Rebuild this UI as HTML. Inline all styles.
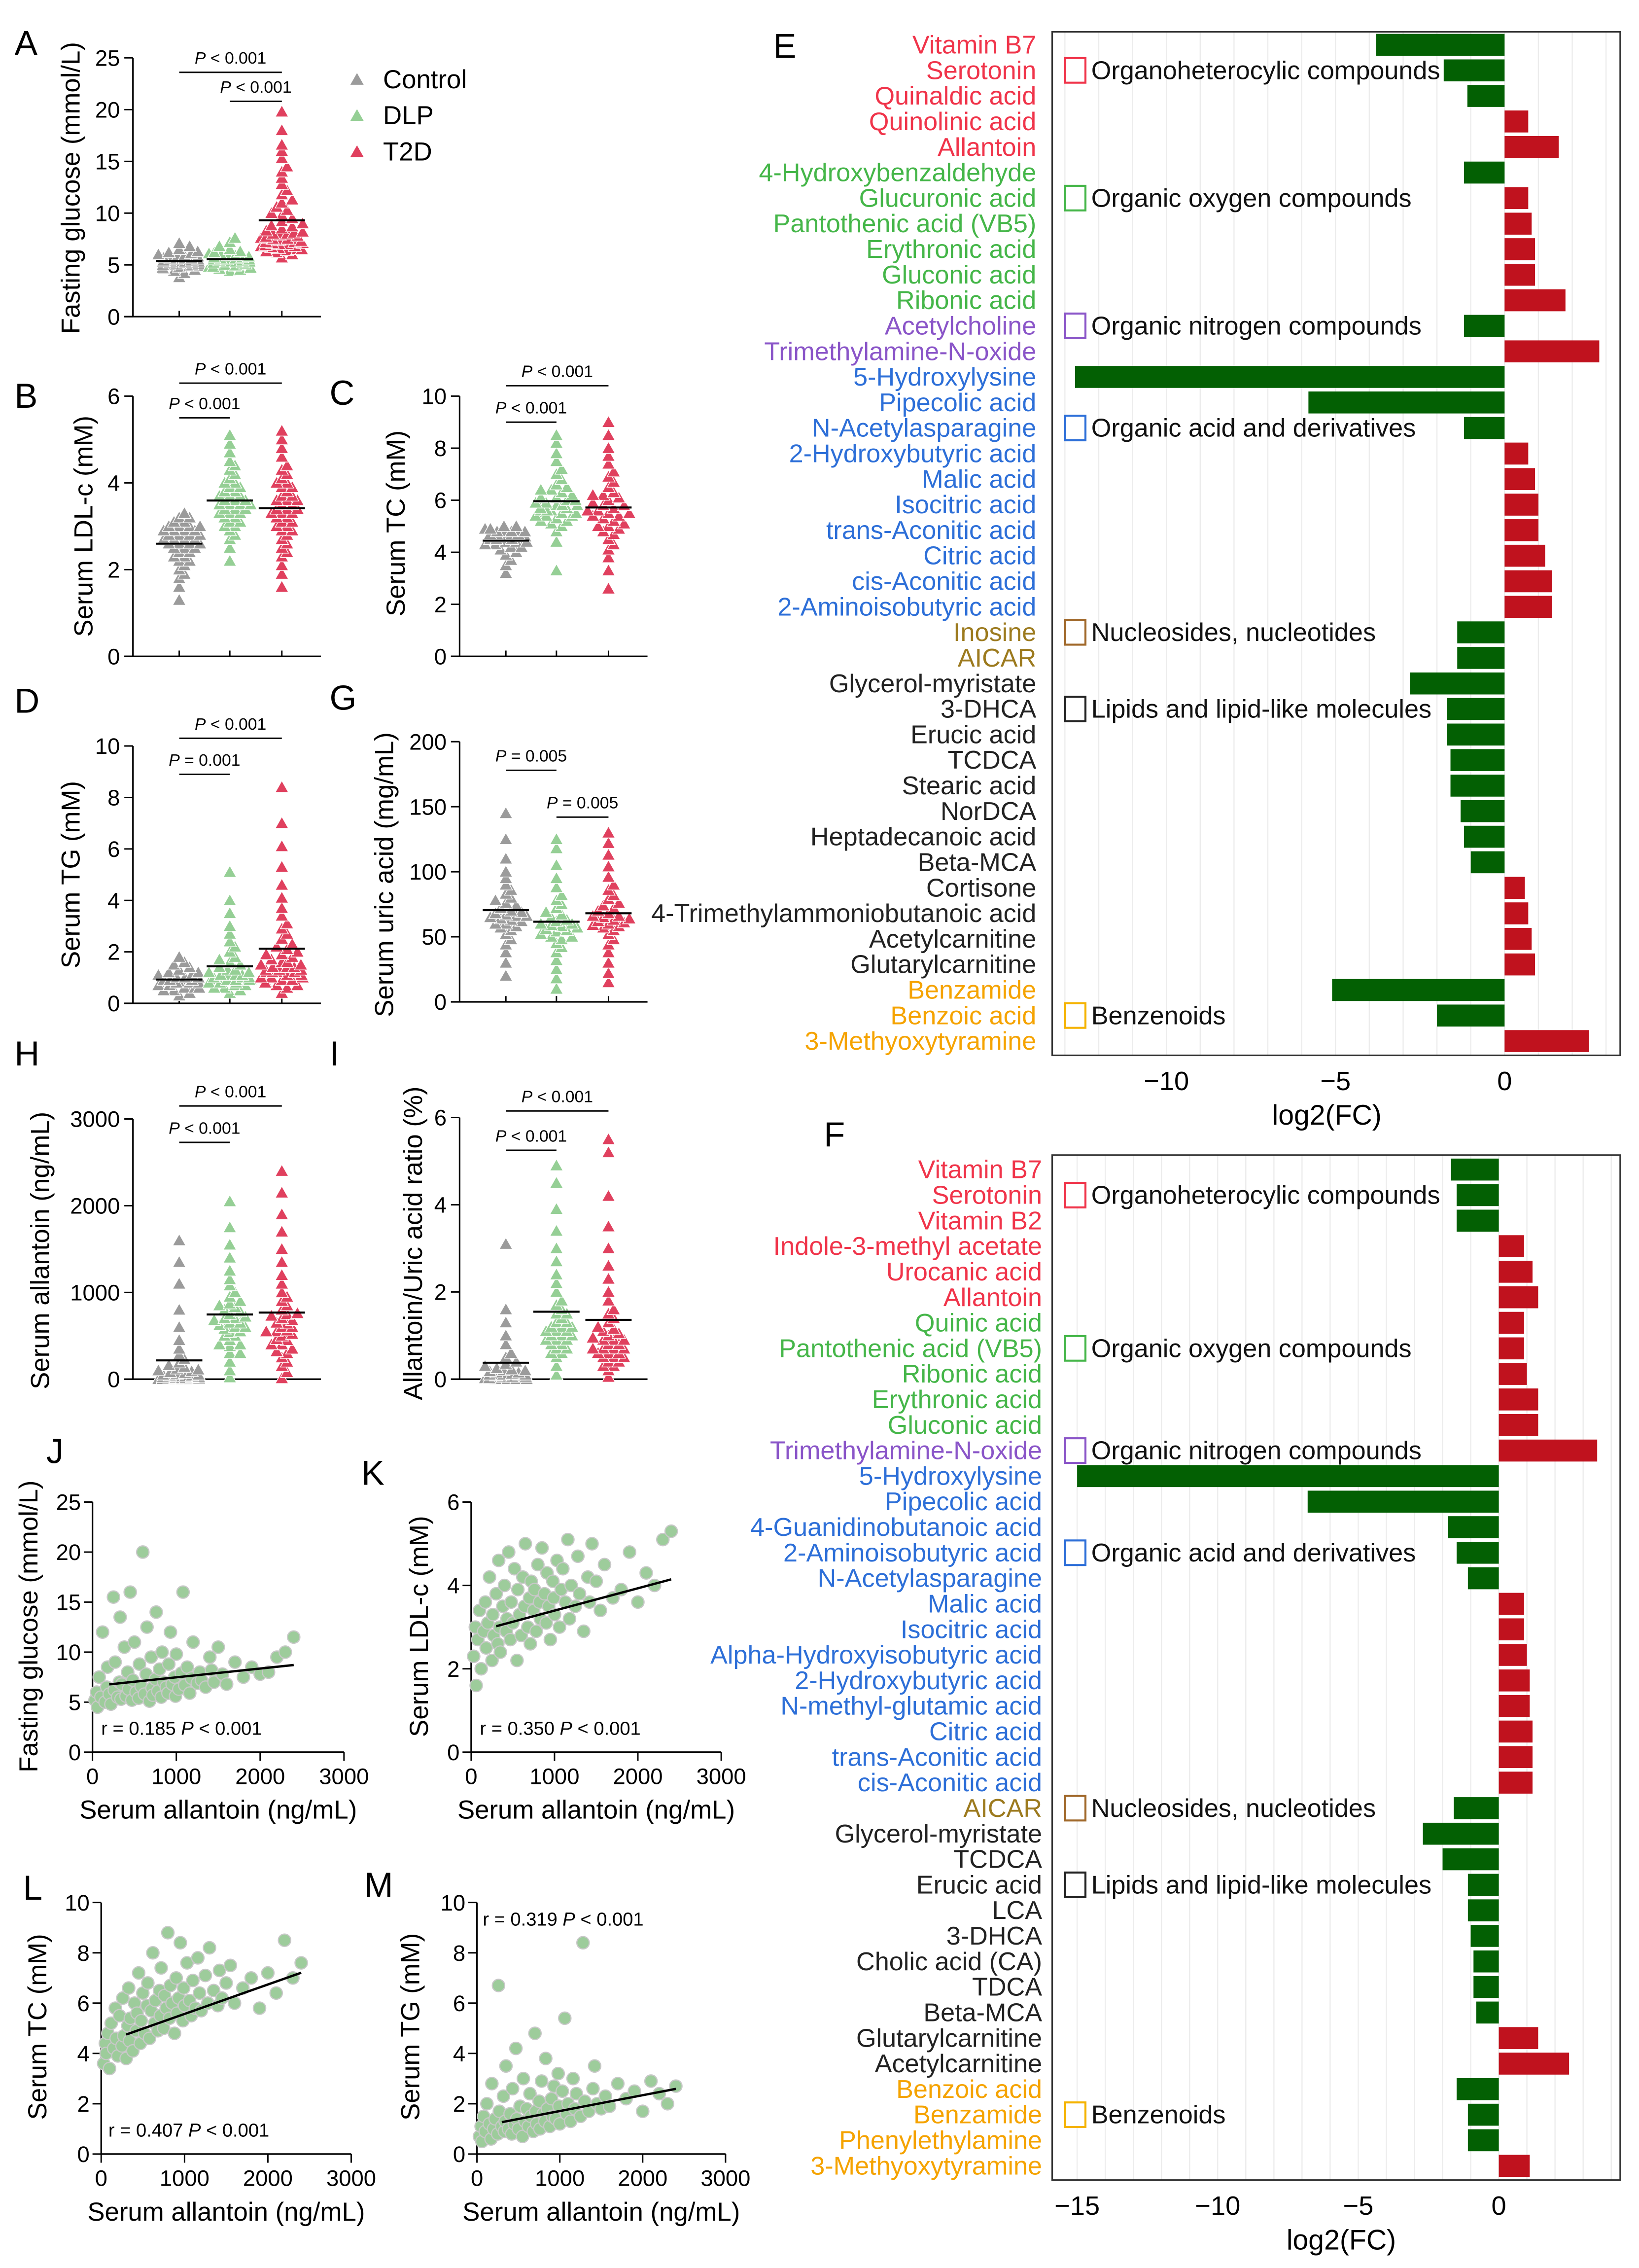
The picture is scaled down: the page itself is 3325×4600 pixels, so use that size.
<!DOCTYPE html>
<html><head><meta charset="utf-8"><style>
html,body{margin:0;padding:0;background:#fff;}
svg{display:block;font-family:"Liberation Sans",Arial,sans-serif;}
</style></head><body>
<svg id="fig" xmlns="http://www.w3.org/2000/svg" width="3325" height="4600" viewBox="0 0 1134 1568.8"></svg>
<script>
// ---------- DATA ----------
const aCtrl=[3.8,4.2,4.4,4.6,4.7,4.8,4.9,5.0,5.0,5.1,5.1,5.2,5.2,5.3,5.3,5.3,5.4,5.4,5.5,5.5,5.6,5.6,5.7,5.8,5.9,6.0,6.1,6.3,6.5,6.8,7.1,4.5,5.0,5.2,5.4,5.6,5.8,4.9,5.3,6.2];
const aDlp=[4.4,4.6,4.7,4.8,4.9,5.0,5.1,5.2,5.3,5.3,5.4,5.4,5.5,5.5,5.6,5.6,5.7,5.8,5.9,6.0,6.1,6.3,6.5,6.8,7.2,7.6,4.5,5.0,5.2,5.5,5.7,5.9,6.2,4.8,5.3];
const aT2d=[5.7,6.0,6.3,6.5,6.7,6.8,7.0,7.1,7.2,7.3,7.5,7.6,7.8,8.0,8.1,8.3,8.5,8.7,9.0,9.2,9.5,9.8,10.0,10.3,10.6,11.0,11.3,11.8,12.2,12.8,13.4,14.0,14.5,15.3,16.0,16.6,18.0,19.8,6.6,7.4,7.9,8.8,6.2,6.4,6.8,7.0,7.2,7.5,7.7,8.0,8.2,6.9,6.5,7.1];
const bCtrl=[1.3,1.6,1.8,1.9,2.0,2.1,2.2,2.2,2.3,2.4,2.4,2.5,2.5,2.6,2.6,2.6,2.7,2.7,2.7,2.8,2.8,2.8,2.9,2.9,2.9,3.0,3.0,3.0,3.1,3.1,3.2,3.2,3.3,2.3,2.5,2.7,2.9,3.0,2.6,2.8];
const bDlp=[2.2,2.5,2.7,2.8,2.9,3.0,3.0,3.1,3.2,3.2,3.3,3.3,3.4,3.4,3.4,3.5,3.5,3.5,3.6,3.6,3.6,3.7,3.7,3.8,3.8,3.9,4.0,4.0,4.1,4.2,4.3,4.4,4.5,4.7,4.9,5.1,3.1,3.3,3.5,3.7,3.9];
const bT2d=[1.6,1.9,2.1,2.3,2.4,2.5,2.6,2.7,2.8,2.9,3.0,3.0,3.1,3.1,3.2,3.2,3.3,3.3,3.4,3.4,3.4,3.5,3.5,3.6,3.6,3.7,3.7,3.8,3.9,4.0,4.0,4.1,4.2,4.3,4.4,4.6,4.8,5.0,5.2,2.9,3.3,3.6,3.9];
const cCtrl=[3.2,3.5,3.7,3.9,4.0,4.1,4.2,4.3,4.3,4.4,4.4,4.5,4.5,4.6,4.6,4.6,4.7,4.7,4.7,4.8,4.8,4.8,4.9,4.9,5.0,5.0,4.2,4.4,4.6,4.8,4.5,4.7];
const cDlp=[3.3,4.4,4.8,5.0,5.1,5.2,5.3,5.4,5.5,5.5,5.6,5.6,5.7,5.7,5.8,5.8,5.9,5.9,6.0,6.0,6.1,6.2,6.3,6.4,6.5,6.6,6.8,7.0,7.2,7.5,7.8,8.2,8.5,5.4,5.8,6.1,6.4,5.2,5.4,5.6];
const cT2d=[2.6,3.3,3.8,4.1,4.3,4.5,4.7,4.8,4.9,5.0,5.1,5.2,5.3,5.4,5.5,5.5,5.6,5.6,5.7,5.8,5.9,6.0,6.1,6.2,6.3,6.5,6.7,6.9,7.1,7.4,7.7,8.0,8.5,9.0,5.0,5.4,5.8,6.2];
const dCtrl=[0.3,0.4,0.5,0.5,0.6,0.6,0.7,0.7,0.7,0.8,0.8,0.8,0.9,0.9,0.9,1.0,1.0,1.0,1.1,1.1,1.2,1.2,1.3,1.4,1.5,1.6,1.8,0.6,0.8,1.0];
const dDlp=[0.4,0.5,0.6,0.7,0.8,0.8,0.9,0.9,1.0,1.0,1.0,1.1,1.1,1.2,1.2,1.3,1.3,1.4,1.5,1.6,1.7,1.8,2.0,2.2,2.4,2.7,3.0,3.5,4.0,5.1,0.9,1.1,0.6,0.7,0.8,0.9,1.0,1.1,0.8,0.9];
const dT2d=[0.4,0.6,0.7,0.8,0.9,1.0,1.1,1.2,1.2,1.3,1.4,1.4,1.5,1.6,1.7,1.8,1.9,2.0,2.1,2.2,2.3,2.5,2.7,2.9,3.1,3.4,3.7,4.1,4.6,5.3,6.1,7.0,8.4,1.0,1.3,1.6,1.9,0.8,0.9,1.0,1.1,1.2,1.3,1.4,1.5,0.7,1.2];
const gCtrl=[20,30,38,44,48,52,55,57,60,62,63,64,65,66,67,68,69,70,72,74,76,78,80,83,86,90,95,100,110,125,145,58,66,60];
const gDlp=[10,18,25,32,38,42,45,48,50,52,54,55,56,57,58,59,60,62,63,65,67,69,72,75,78,82,88,95,105,118,125,50,60];
const gT2d=[15,22,30,38,44,48,52,55,57,59,60,61,62,63,64,65,66,68,70,72,74,76,79,82,86,90,96,104,113,122,130,58,66];
const hCtrl=[0,0,0,0,0,5,10,15,20,25,30,40,50,60,70,80,90,100,110,120,140,160,190,230,280,350,450,600,800,1100,1350,1600,0,10,20,30,40,50];
const hDlp=[20,100,200,300,380,450,500,540,580,620,650,680,700,720,750,780,800,830,870,900,950,1000,1080,1150,1250,1400,1550,1750,2050,400,600,700,850,300,400,500,550,600,650];
const hT2d=[10,80,150,250,320,400,460,520,560,600,640,680,700,730,760,800,850,900,950,1000,1100,1200,1350,1500,1700,1900,2150,2400,350,550,650,750,200,300,400,450,500,550,600];
const iCtrl=[0,0,0.02,0.05,0.08,0.1,0.12,0.15,0.18,0.2,0.22,0.25,0.3,0.35,0.4,0.5,0.6,0.8,1.0,1.3,1.6,3.1,0.05,0.1,0,0,0.02,0.05,0.1,0.1,0.15,0.2];
const iDlp=[0.1,0.3,0.5,0.6,0.7,0.8,0.9,1.0,1.1,1.2,1.2,1.3,1.3,1.4,1.5,1.6,1.7,1.8,2.0,2.2,2.4,2.7,3.0,3.4,3.9,4.5,4.9,0.9,1.1,1.5,0.6,0.8,0.9,1.0,1.1,1.2,1.0,0.7];
const iT2d=[0.05,0.2,0.3,0.4,0.5,0.6,0.7,0.8,0.9,0.95,1.0,1.05,1.1,1.15,1.2,1.3,1.4,1.5,1.6,1.8,2.0,2.3,2.6,3.0,3.5,4.2,5.2,5.5,0.7,0.9,0.3,0.4,0.5,0.6,0.7,0.8,0.9,0.5,0.6,0.7];

const allantoinX=[30,50,60,80,100,120,150,170,180,200,220,250,260,270,300,320,330,340,350,380,400,420,430,450,470,480,500,520,550,560,580,600,620,640,650,680,700,710,720,750,760,780,800,820,830,850,880,900,910,930,950,980,990,1000,1030,1060,1080,1100,1130,1160,1180,1200,1250,1280,1300,1350,1400,1420,1450,1500,1550,1600,1700,1800,1900,2000,2100,2200,2300,2400];
const glucoseY=[5.2,6.0,4.5,7.5,5.5,12.0,5.0,6.5,8.5,5.8,4.8,15.5,6.2,9.0,5.5,7.0,13.5,5.3,6.8,10.5,5.6,8.0,6.3,16.0,5.2,7.2,11.0,6.0,5.4,8.8,6.6,20.0,5.8,7.8,12.5,5.1,9.5,6.4,5.7,7.3,14.0,6.1,8.3,5.5,10.0,7.0,6.5,5.9,8.8,12.0,6.8,7.5,5.6,9.8,6.3,7.9,16.0,6.7,8.5,5.9,7.4,11.0,6.9,8.0,7.2,6.5,9.5,8.2,7.0,10.5,7.8,6.8,9.0,7.5,8.5,7.8,8.0,9.5,10.0,11.5];
const ldlY=[2.3,3.0,1.6,2.7,3.4,2.0,2.9,3.6,2.5,3.1,4.2,2.2,3.3,2.8,3.8,2.6,4.6,3.0,2.4,3.5,4.0,2.9,3.2,4.8,2.7,3.6,3.1,4.4,2.2,3.9,3.3,2.8,4.2,3.5,5.0,3.0,3.7,2.6,4.1,3.4,3.9,2.9,4.5,3.6,3.2,4.9,3.8,3.1,4.3,3.5,2.7,4.1,3.7,3.3,4.6,3.0,3.9,4.4,3.6,5.1,3.2,4.0,3.5,4.7,3.8,2.9,4.2,3.6,5.0,4.1,3.4,4.5,3.7,3.9,4.8,3.6,4.3,4.0,5.1,5.3];
const tcY=[3.6,4.4,4.0,4.8,3.4,5.2,4.2,5.8,4.6,3.9,5.5,4.3,6.2,4.7,3.8,5.1,6.6,4.5,5.4,4.1,6.0,4.9,5.6,7.2,4.4,5.3,6.4,4.8,5.9,6.8,4.6,5.7,8.0,5.2,6.1,4.9,6.5,5.5,7.4,5.0,6.3,5.8,8.8,5.4,6.7,6.0,4.8,7.0,5.6,6.2,8.4,5.3,6.6,5.9,7.6,6.1,5.5,6.9,5.8,7.8,6.4,5.7,7.1,6.0,8.2,6.5,5.9,7.3,6.2,6.8,7.5,6.0,6.6,7.0,5.8,7.2,6.4,8.5,7.0,7.6];
const tgY=[0.7,1.1,0.5,1.5,0.9,2.0,1.2,0.6,2.8,1.0,1.4,0.8,6.7,1.7,1.1,2.3,0.9,1.3,3.5,1.0,1.6,0.8,2.6,1.2,4.2,1.4,1.0,1.9,0.7,3.0,1.3,1.8,1.1,2.4,1.5,0.9,4.8,1.7,1.2,2.1,1.0,2.9,1.6,1.3,3.8,1.8,1.1,2.2,1.5,2.7,1.4,3.2,1.9,1.2,2.5,5.4,1.6,2.0,1.3,3.0,1.8,2.4,1.5,8.4,2.1,1.7,2.6,3.5,2.0,1.8,2.3,1.9,2.8,2.2,2.5,1.7,2.9,2.4,2.0,2.7];
const fitJ=[6.6,0.00088], fitK=[2.86,0.000536], fitL=[4.4,0.00117], fitM=[1.08,0.00063];
const fitRangeJ=[200,2400], fitRangeK=[300,2400], fitRangeL=[300,2400], fitRangeM=[300,2400];

const eLabels=["Vitamin B7","Serotonin","Quinaldic acid","Quinolinic acid","Allantoin","4-Hydroxybenzaldehyde","Glucuronic acid","Pantothenic acid (VB5)","Erythronic acid","Gluconic acid","Ribonic acid","Acetylcholine","Trimethylamine-N-oxide","5-Hydroxylysine","Pipecolic acid","N-Acetylasparagine","2-Hydroxybutyric acid","Malic acid","Isocitric acid","trans-Aconitic acid","Citric acid","cis-Aconitic acid","2-Aminoisobutyric acid","Inosine","AICAR","Glycerol-myristate","3-DHCA","Erucic acid","TCDCA","Stearic acid","NorDCA","Heptadecanoic acid","Beta-MCA","Cortisone","4-Trimethylammoniobutanoic acid","Acetylcarnitine","Glutarylcarnitine","Benzamide","Benzoic acid","3-Methyoxytyramine"];
const eValues=[-3.8,-1.8,-1.1,0.7,1.6,-1.2,0.7,0.8,0.9,0.9,1.8,-1.2,2.8,-12.7,-5.8,-1.2,0.7,0.9,1.0,1.0,1.2,1.4,1.4,-1.4,-1.4,-2.8,-1.7,-1.7,-1.6,-1.6,-1.3,-1.2,-1.0,0.6,0.7,0.8,0.9,-5.1,-2.0,2.5];
const eClass=[0,0,0,0,0,1,1,1,1,1,1,2,2,3,3,3,3,3,3,3,3,3,3,4,4,5,5,5,5,5,5,5,5,5,5,5,5,6,6,6];
const fLabels=["Vitamin B7","Serotonin","Vitamin B2","Indole-3-methyl acetate","Urocanic acid","Allantoin","Quinic acid","Pantothenic acid (VB5)","Ribonic acid","Erythronic acid","Gluconic acid","Trimethylamine-N-oxide","5-Hydroxylysine","Pipecolic acid","4-Guanidinobutanoic acid","2-Aminoisobutyric acid","N-Acetylasparagine","Malic acid","Isocitric acid","Alpha-Hydroxyisobutyric acid","2-Hydroxybutyric acid","N-methyl-glutamic acid","Citric acid","trans-Aconitic acid","cis-Aconitic acid","AICAR","Glycerol-myristate","TCDCA","Erucic acid","LCA","3-DHCA","Cholic acid (CA)","TDCA","Beta-MCA","Glutarylcarnitine","Acetylcarnitine","Benzoic acid","Benzamide","Phenylethylamine","3-Methyoxytyramine"];
const fValues=[-1.7,-1.5,-1.5,0.9,1.2,1.4,0.9,0.9,1.0,1.4,1.4,3.5,-15.0,-6.8,-1.8,-1.5,-1.1,0.9,0.9,1.0,1.1,1.1,1.2,1.2,1.2,-1.6,-2.7,-2.0,-1.1,-1.1,-1.0,-0.9,-0.9,-0.8,1.4,2.5,-1.5,-1.1,-1.1,1.1];
const fClass=[0,0,0,0,0,0,1,1,1,1,1,2,3,3,3,3,3,3,3,3,3,3,3,3,3,4,5,5,5,5,5,5,5,5,5,5,6,6,6,6];
const classNames=["Organoheterocylic compounds","Organic oxygen compounds","Organic nitrogen compounds","Organic acid and derivatives","Nucleosides, nucleotides","Lipids and lipid-like molecules","Benzenoids"];
const eClassRows=[1,6,11,15,23,26,38];
const fClassRows=[1,7,11,15,25,28,37];

// ---------- HELPERS ----------
const NS="http://www.w3.org/2000/svg";
const svg=document.getElementById('fig');
function mk(tag,attrs,parent){const e=document.createElementNS(NS,tag);for(const k in attrs)e.setAttribute(k,attrs[k]);(parent||svg).appendChild(e);return e;}
function txt(s,attrs,parent){const e=mk('text',attrs,parent);e.textContent=s;return e;}
function pText(pre,rest,attrs,parent){const t=mk('text',attrs,parent);if(pre){const a=document.createElementNS(NS,'tspan');a.setAttribute('font-style','italic');a.textContent=pre;t.appendChild(a);}const b=document.createElementNS(NS,'tspan');b.textContent=rest;t.appendChild(b);return t;}
const classColors=["#f0344a","#45b649","#8a55c8","#2d6fd8","#9c7a1e","#222222","#f5a300"];
const boxColors=["#f0344a","#45b649","#8a55c8","#2d6fd8","#a0682a","#222222","#f5b300"];
const grpColors=["#9b9b9b","#95cf95","#e0405e"];

function letter(ch,x,y){const t=txt(ch,{x:x,y:y,'font-size':24});

}

function yTitle(s,x,y,g){const t=txt(s,{x:0,y:0,'font-size':18,'text-anchor':'middle',transform:'translate('+x+','+y+') rotate(-90)'},g);

}

function dotPanel(c){
  const g=mk('g',{});
  
  
  const ys=v=>c.bot-v/c.max*(c.bot-c.top);
  const gx=[c.ax+32,c.ax+67,c.ax+103];
  const ax=mk('line',{x1:c.ax,y1:c.top,x2:c.ax,y2:c.bot,stroke:'#000','stroke-width':1.1},g);
  
  
  const xa=mk('line',{x1:c.ax-6,y1:c.bot,x2:c.ax+130,y2:c.bot,stroke:'#000','stroke-width':1.1},g);
  
  
  gx.forEach(x=>{const t=mk('line',{x1:x,y1:c.bot-4,x2:x,y2:c.bot,stroke:'#000','stroke-width':1},g);
    
    });
  c.ticks.forEach(v=>{const y=ys(v);
    const tk=mk('line',{x1:c.ax-6,y1:y,x2:c.ax,y2:y,stroke:'#000','stroke-width':1},g);
    
    
    const l=txt(String(v),{x:c.ax-9,y:y+5.5,'font-size':15.5,'text-anchor':'end'},g);
    
    });
  yTitle(c.title,c.tx,c.ty,g);
  c.groups.forEach((vals,gi)=>{
    const placed=[];const sorted=vals.slice().sort((a,b)=>a-b);
    sorted.forEach(v=>{const y=ys(v);
      const cands=[0];for(let k=1;k<=4;k++){cands.push(k*3.6,-k*3.6);}
      let chosen=null;
      for(const o of cands){const x=gx[gi]+o;if(placed.every(p=>Math.hypot(p[0]-x,p[1]-y)>4.2)){chosen=x;break;}}
      if(chosen===null){chosen=gx[gi]+((placed.length%2)?-1:1)*((placed.length*2.3)%14);}
      placed.push([chosen,y]);
      const tri=mk('polygon',{points:(chosen)+','+(y-4.5)+' '+(chosen-4.6)+','+(y+3.6)+' '+(chosen+4.6)+','+(y+3.6),fill:grpColors[gi],stroke:'#fff','stroke-width':0.5},g);
      
      });
    const m=vals.reduce((a,b)=>a+b,0)/vals.length;
    const ml=mk('line',{x1:gx[gi]-16,y1:ys(m),x2:gx[gi]+16,y2:ys(m),stroke:'#000','stroke-width':1.4},g);
    
    
  });
  c.brackets.forEach(b=>{const y=ys(b[2]);
    const l=mk('line',{x1:gx[b[0]],y1:y,x2:gx[b[1]],y2:y,stroke:'#000','stroke-width':1},g);
    
    
    const t=pText('P',' '+b[3],{x:(gx[b[0]]+gx[b[1]])/2,y:y-6,'font-size':11.5,'text-anchor':'middle'},g);
    
    });
}

function scatterPanel(c){
  const g=mk('g',{});
  
  
  const xs=v=>c.x0+v/3000*(c.x1-c.x0);
  const ys=v=>c.bot-v/c.max*(c.bot-c.top);
  const ax=mk('line',{x1:c.x0,y1:c.top,x2:c.x0,y2:c.bot,stroke:'#000','stroke-width':1.1},g);
  
  
  const xa=mk('line',{x1:c.x0,y1:c.bot,x2:c.x1,y2:c.bot,stroke:'#000','stroke-width':1.1},g);
  
  
  c.ticks.forEach(v=>{const y=ys(v);
    const tk=mk('line',{x1:c.x0-6,y1:y,x2:c.x0,y2:y,stroke:'#000','stroke-width':1},g);
    
    
    const l=txt(String(v),{x:c.x0-8,y:y+5.5,'font-size':15.5,'text-anchor':'end'},g);
    
    });
  [0,1000,2000,3000].forEach(v=>{const x=xs(v);
    const tk=mk('line',{x1:x,y1:c.bot,x2:x,y2:c.bot+6,stroke:'#000','stroke-width':1},g);
    
    
    const l=txt(String(v),{x:x,y:c.bot+22,'font-size':15.5,'text-anchor':'middle'},g);
    
    });
  yTitle(c.title,c.tx,c.ty,g);
  const xt=txt('Serum allantoin (ng/mL)',{x:(c.x0+c.x1)/2,y:c.bot+46,'font-size':18,'text-anchor':'middle'},g);
  
  
  c.xv.forEach((xv,i)=>{const p=mk('circle',{cx:xs(xv),cy:ys(c.yv[i]),r:4.3,fill:'#9dcc9b',stroke:'#c8c8c8','stroke-width':0.8},g);
    
    });
  const fl=mk('line',{x1:xs(c.range[0]),y1:ys(c.fit[0]+c.fit[1]*c.range[0]),x2:xs(c.range[1]),y2:ys(c.fit[0]+c.fit[1]*c.range[1]),stroke:'#000','stroke-width':1.6},g);
  
  
  const t=mk('text',{x:c.ax,y:c.ay,'font-size':13},g);
  t.innerHTML='r = '+c.r+' <tspan font-style="italic">P</tspan> &lt; 0.001';
  
  
}

function barPanel(c){
  const g=mk('g',{});
  
  
  const xs=v=>c.zero+v*c.unit;
  for(let v=Math.ceil((c.x0-c.zero)/c.unit);v<=Math.floor((c.x1-c.zero)/c.unit);v++){
    const gl=mk('line',{x1:xs(v),y1:c.top,x2:xs(v),y2:c.bot,stroke:'#ececec','stroke-width':0.8},g);
    
    }
  const box=mk('rect',{x:c.x0,y:c.top,width:c.x1-c.x0,height:c.bot-c.top,fill:'none',stroke:'#333','stroke-width':1.1},g);
  
  
  c.values.forEach((v,i)=>{const yc=c.row0+i*c.step;
    const x=Math.min(xs(0),xs(v)),w=Math.abs(xs(v)-xs(0));
    const b=mk('rect',{x:x,y:yc-7.6,width:w,height:15.2,fill:v<0?'#036003':'#c0121e'},g);
    
    
    const l=txt(c.labels[i],{x:c.lx,y:yc+6,'font-size':17.8,'text-anchor':'end',fill:classColors[c.cls[i]]},g);
    
    });
  classNames.forEach((n,k)=>{const yc=c.row0+c.classRows[k]*c.step;
    const r=mk('rect',{x:c.x0+9,y:yc-8.5,width:14,height:17,fill:'#fff',stroke:boxColors[k],'stroke-width':1.4},g);
    
    
    const t=txt(n,{x:c.x0+27,y:yc+6,'font-size':17.8,fill:'#111'},g);
    
    });
  c.ticks.forEach(v=>{const t=txt(v<0?'\u2212'+(-v):String(v),{x:xs(v),y:c.bot+24,'font-size':18.5,'text-anchor':'middle'},g);
    
    });
  const ti=txt('log2(FC)',{x:c.titleX,y:c.bot+48,'font-size':19.5,'text-anchor':'middle'},g);
  
  
}

// ---------- BUILD ----------
letter('A',10,38);letter('B',10,282);letter('C',228,280);letter('D',10,493);letter('G',228,491);
letter('H',10,737);letter('I',228,737);letter('J',32,1012);letter('K',250,1027);letter('L',16,1314);letter('M',252,1312);
letter('E',535,40);letter('F',570,793);

dotPanel({id:'a',ax:92,top:40,bot:219,max:25,ticks:[0,5,10,15,20,25],groups:[aCtrl,aDlp,aT2d],title:'Fasting glucose (mmol/L)',tx:55,ty:130,brackets:[[0,2,23.6,'< 0.001'],[1,2,20.8,'< 0.001']]});
dotPanel({id:'b',ax:92,top:274,bot:454,max:6,ticks:[0,2,4,6],groups:[bCtrl,bDlp,bT2d],title:'Serum LDL-c (mM)',tx:64,ty:364,brackets:[[0,2,6.3,'< 0.001'],[0,1,5.5,'< 0.001']]});
dotPanel({id:'c',ax:318,top:274,bot:454,max:10,ticks:[0,2,4,6,8,10],groups:[cCtrl,cDlp,cT2d],title:'Serum TC (mM)',tx:280,ty:362,brackets:[[0,2,10.4,'< 0.001'],[0,1,9.0,'< 0.001']]});
dotPanel({id:'d',ax:92,top:516,bot:694,max:10,ticks:[0,2,4,6,8,10],groups:[dCtrl,dDlp,dT2d],title:'Serum TG (mM)',tx:55,ty:605,brackets:[[0,2,10.3,'< 0.001'],[0,1,8.9,'= 0.001']]});
dotPanel({id:'g',ax:318,top:513,bot:693,max:200,ticks:[0,50,100,150,200],groups:[gCtrl,gDlp,gT2d],title:'Serum uric acid (mg/mL)',tx:272,ty:605,brackets:[[0,1,178,'= 0.005'],[1,2,142,'= 0.005']]});
dotPanel({id:'h',ax:92,top:774,bot:954,max:3000,ticks:[0,1000,2000,3000],groups:[hCtrl,hDlp,hT2d],title:'Serum allantoin (ng/mL)',tx:34,ty:865,brackets:[[0,2,3150,'< 0.001'],[0,1,2730,'< 0.001']]});
dotPanel({id:'i',ax:318,top:773,bot:954,max:6,ticks:[0,2,4,6],groups:[iCtrl,iDlp,iT2d],title:'Allantoin/Uric acid ratio (%)',tx:292,ty:860,brackets:[[0,2,6.15,'< 0.001'],[0,1,5.25,'< 0.001']]});

// legend
const legendNames=['Control','DLP','T2D'];
legendNames.forEach((n,i)=>{const y=55+i*25;
  const tri=mk('polygon',{points:'247,'+(y-4.5)+' 242.4,'+(y+3.6)+' 251.6,'+(y+3.6),fill:grpColors[i]});
  
  
  const t=txt(n,{x:265,y:y+6,'font-size':18});
  
  });

scatterPanel({id:'j',x0:64,x1:238,top:1039,bot:1212,max:25,ticks:[0,5,10,15,20,25],xv:allantoinX,yv:glucoseY,fit:fitJ,range:fitRangeJ,title:'Fasting glucose (mmol/L)',tx:26,ty:1125,r:'0.185',ax:70,ay:1200});
scatterPanel({id:'k',x0:326,x1:499,top:1039,bot:1212,max:6,ticks:[0,2,4,6],xv:allantoinX,yv:ldlY,fit:fitK,range:fitRangeK,title:'Serum LDL-c (mM)',tx:296,ty:1125,r:'0.350',ax:332,ay:1200});
scatterPanel({id:'l',x0:70,x1:243,top:1316,bot:1490,max:10,ticks:[0,2,4,6,8,10],xv:allantoinX,yv:tcY,fit:fitL,range:fitRangeL,title:'Serum TC (mM)',tx:32,ty:1402,r:'0.407',ax:75,ay:1478});
scatterPanel({id:'m',x0:330,x1:502,top:1316,bot:1490,max:10,ticks:[0,2,4,6,8,10],xv:allantoinX,yv:tgY,fit:fitM,range:fitRangeM,title:'Serum TG (mM)',tx:290,ty:1402,r:'0.319',ax:334,ay:1332});

barPanel({id:'e',x0:728,x1:1121,top:22,bot:730,zero:1041,unit:23.4,row0:31,step:17.67,labels:eLabels,values:eValues,cls:eClass,classRows:eClassRows,lx:717,ticks:[-10,-5,0],titleX:918});
barPanel({id:'f',x0:728,x1:1121,top:799,bot:1508,zero:1037,unit:19.45,row0:809,step:17.67,labels:fLabels,values:fValues,cls:fClass,classRows:fClassRows,lx:721,ticks:[-15,-10,-5,0],titleX:928});
</script>
</body></html>
